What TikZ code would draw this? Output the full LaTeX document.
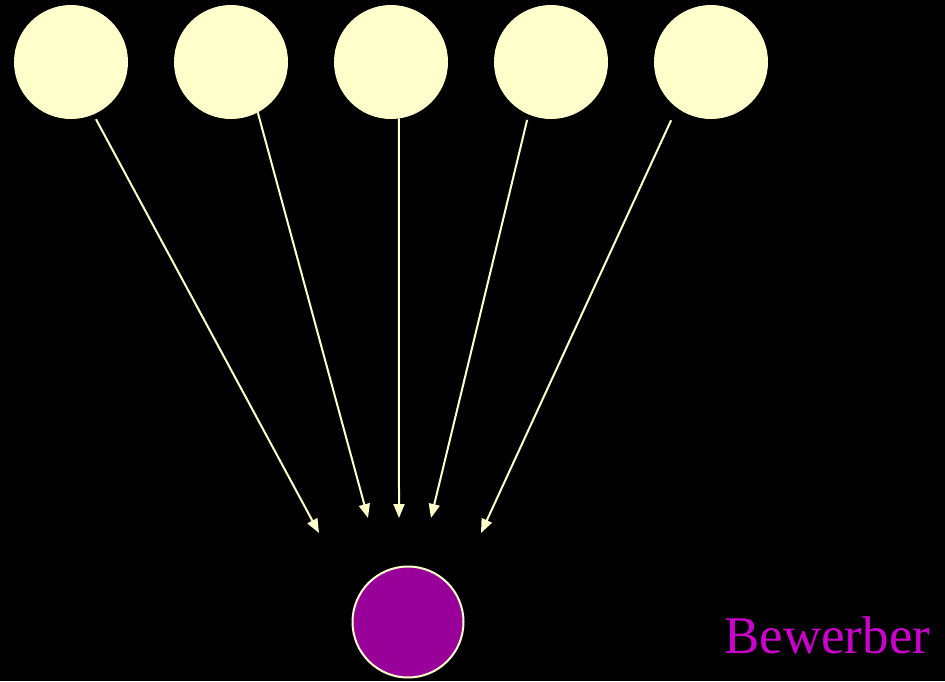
\documentclass[tikz,border=0pt]{standalone}
\usepackage{fontspec}
\setmainfont{Liberation Serif}
\usetikzlibrary{arrows.meta}
\definecolor{cream}{HTML}{FFFFCC}
\definecolor{purp}{HTML}{990099}
\definecolor{mag}{HTML}{CC00CC}
\begin{document}
\begin{tikzpicture}[x=1pt,y=-1pt,
  topball/.style={circle,fill=cream,minimum size=114pt,inner sep=0pt,outer sep=0pt},
  arr/.style={draw=cream,line width=2pt,-{Triangle[length=14pt,width=11pt]}}]
\fill[black] (0,0) rectangle (945,681);
\useasboundingbox (0,0) rectangle (945,681);
\node[topball] (c1) at (71,62) {};
\node[topball] (c2) at (231,62) {};
\node[topball] (c3) at (391,62) {};
\node[topball] (c4) at (551,62) {};
\node[topball] (c5) at (711,62) {};
\node[circle,fill=purp,draw=cream,line width=2pt,minimum size=111pt,inner sep=0pt] (b) at (408,622) {};
\node[anchor=base west,inner sep=0pt,text=mag,font=\fontsize{53}{53}\selectfont] (lbl) at (724,653) {Bewerber};
\coordinate (t1) at (319,533);
\coordinate (t2) at (368,518);
\coordinate (t3) at (399,518);
\coordinate (t4) at (431,518);
\coordinate (t5) at (481,533);
\draw[arr] ([shift={(0,6)}]c1.-64) -- (t1);
\draw[arr] (c2.-62) -- (t2);
\draw[arr] (c3.-82) -- (t3);
\draw[arr] ([shift={(-2.5,5)}]c4.-112) -- (t4);
\draw[arr] ([shift={(-8,11)}]c5.-124) -- (t5);
\end{tikzpicture}
\end{document}
